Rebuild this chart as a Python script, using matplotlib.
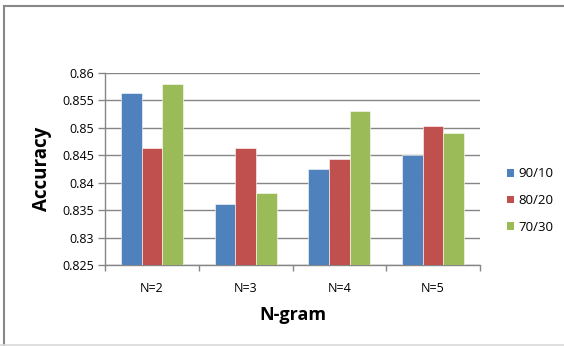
import matplotlib
matplotlib.use("Agg")
import matplotlib.pyplot as plt
from matplotlib.patches import Patch
from matplotlib.lines import Line2D
import numpy as np

categories = ["N=2", "N=3", "N=4", "N=5"]
series_names = ["90/10", "80/20", "70/30"]
acc_90_10 = [0.8564, 0.8362, 0.8425, 0.8450]
acc_80_20 = [0.8463, 0.8463, 0.8443, 0.8504]
acc_70_30 = [0.8580, 0.8382, 0.8530, 0.8491]
y_ticks = [0.825, 0.83, 0.835, 0.84, 0.845, 0.85, 0.855, 0.86]
y_tick_labels = ["0.825", "0.83", "0.835", "0.84", "0.845", "0.85", "0.855", "0.86"]

colors = ["#4F81BD", "#C0504D", "#9BBB59"]
grid_gray = "#868686"

plt.rcParams["font.family"] = ["Open Sans", "DejaVu Sans"]

fig = plt.figure(figsize=(5.64, 3.46), dpi=100)
ax = fig.add_axes([105 / 564, 1 - 265 / 346, 375 / 564, 192 / 346])

x = np.arange(len(categories))
bw = 0.22
for i, (vals, name) in enumerate(zip([acc_90_10, acc_80_20, acc_70_30], series_names)):
    ax.bar(x + (i - 1) * bw, np.array(vals) - 0.825, bw, bottom=0.825,
           color=colors[i], edgecolor="white", linewidth=0.4, label=name, zorder=3)

ax.set_xlim(-0.5, len(categories) - 0.5)
ax.set_ylim(0.825, 0.86)
ax.set_yticks(y_ticks)
ax.set_yticklabels(y_tick_labels)
ax.yaxis.grid(True, color=grid_gray, linewidth=1.0, zorder=0)
ax.set_axisbelow(True)

# category labels in the middle, tick marks on the category boundaries
ax.set_xticks(x)
ax.set_xticklabels(categories)
ax.tick_params(axis="x", length=0, pad=12.5, labelsize=9, labelcolor="#000000")
ax.set_xticks(np.arange(-0.5, len(categories)), minor=True)
ax.tick_params(axis="x", which="minor", length=4, width=1, color=grid_gray, direction="out")
ax.tick_params(axis="y", length=5, width=1, color=grid_gray, direction="out",
               labelsize=9, labelcolor="#000000", pad=3)

for side in ["top", "right"]:
    ax.spines[side].set_visible(False)
for side in ["left", "bottom"]:
    ax.spines[side].set_color(grid_gray)
    ax.spines[side].set_linewidth(1.0)

ax.set_ylabel("Accuracy", fontsize=13.5, fontweight="bold", labelpad=7)
ax.set_xlabel("N-gram", fontsize=13, fontweight="bold", labelpad=8)

handles = [Patch(facecolor=c, edgecolor="none") for c in colors]
fig.legend(handles, series_names, loc="center left", bbox_to_anchor=(0.878, 0.42),
           frameon=False, fontsize=9.5, handlelength=0.55, handleheight=0.55,
           handletextpad=0.3, labelspacing=1.05, labelcolor="#000000")

# chart frame
fig.add_artist(Line2D([4 / 564, 1.0], [1 - 6 / 346, 1 - 6 / 346], transform=fig.transFigure,
                      color="#888888", linewidth=1.5))
fig.add_artist(Line2D([4 / 564, 4 / 564], [1 - 6 / 346, 0.0], transform=fig.transFigure,
                      color="#888888", linewidth=1.5))
fig.add_artist(Line2D([0.0, 1.0], [1 / 346, 1 / 346], transform=fig.transFigure,
                      color="#d9d9d9", linewidth=1.2))

fig.savefig("out.png", dpi=100)
